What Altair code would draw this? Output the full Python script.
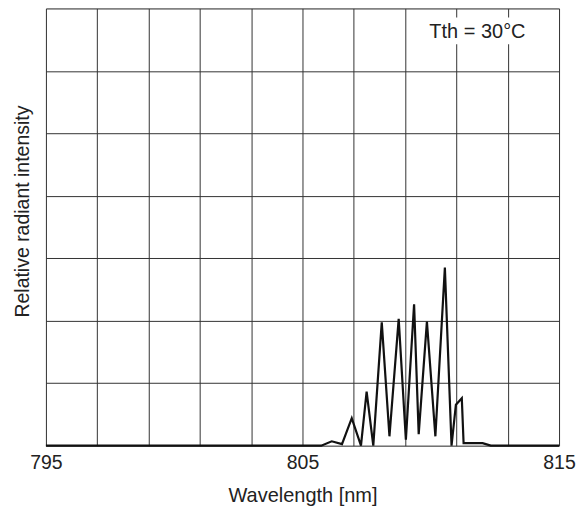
import altair as alt
import pandas as pd

# Spectrum
wavelength = [795.0, 805.73, 806.14, 806.54, 806.92, 807.28, 807.50, 807.76, 808.09,
              808.39, 808.75, 809.03, 809.35, 809.53, 809.85, 810.18, 810.55, 810.81,
              810.98, 811.21, 811.28, 812.02, 812.34, 815.0]
intensity = [0.0, 0.0, 0.014, 0.005, 0.088, 0.0, 0.173, 0.0, 0.395,
             0.030, 0.406, 0.019, 0.453, 0.037, 0.397, 0.030, 0.570, 0.0,
             0.131, 0.152, 0.008, 0.008, 0.0, 0.0]

x_grid = list(range(795, 816, 2))
y_grid = [0.0, 0.2, 0.4, 0.6, 0.8, 1.0, 1.2, 1.4]

note_text = ["Tth = 30°C"]
note_x = [811.82]
note_y = [1.306]
note_box = {"x": [809.82], "x2": [813.83], "y": [1.285], "y2": [1.371]}

FONT = "Liberation Sans"

df = pd.DataFrame({"wl": wavelength, "ri": intensity})
note_df = pd.DataFrame({"t": note_text, "x": note_x, "y": note_y})
box_df = pd.DataFrame(note_box)

xscale = alt.Scale(domain=[795, 815], nice=False, zero=False)
yscale = alt.Scale(domain=[0, 1.4], nice=False, zero=True)

xaxis = alt.Axis(
    values=x_grid,
    labelExpr="(datum.value - 795) % 10 == 0 ? datum.label : ''",
    grid=True, gridColor="#333333", gridWidth=1, gridOpacity=1,
    ticks=False, tickSize=0, domain=False,
    labelFont=FONT, labelFontSize=19.5, labelColor="#222222",
    labelPadding=8, labelFlush=False, labelOverlap=False,
    title="Wavelength [nm]", titleFont=FONT, titleFontSize=20,
    titleFontWeight="normal", titleColor="#222222",
    titleBaseline="alphabetic", titleY=56,
)
yaxis = alt.Axis(
    values=y_grid, labels=False, ticks=False, tickSize=0, domain=False,
    grid=True, gridColor="#333333", gridWidth=1, gridOpacity=1,
    title="Relative radiant intensity", titleFont=FONT, titleFontSize=19.5,
    titleFontWeight="normal", titleColor="#222222",
    titleX=-13, titleY=203, titleBaseline="bottom", titleAngle=-90,
)

line = alt.Chart(df).mark_line(color="#111111", strokeWidth=2.2, strokeJoin="miter").encode(
    x=alt.X("wl:Q", scale=xscale, axis=xaxis),
    y=alt.Y("ri:Q", scale=yscale, axis=yaxis),
)

box = alt.Chart(box_df).mark_rect(color="white", opacity=1).encode(
    x=alt.X("x:Q", scale=xscale), x2="x2:Q",
    y=alt.Y("y:Q", scale=yscale), y2="y2:Q",
)

note = alt.Chart(note_df).mark_text(
    font=FONT, fontSize=20, color="#222222", align="center", baseline="alphabetic"
).encode(
    x=alt.X("x:Q", scale=xscale),
    y=alt.Y("y:Q", scale=yscale),
    text="t:N",
)

chart = alt.layer(line, box, note).properties(
    width=514, height=438,
    autosize=alt.AutoSizeParams(type="none"),
    padding={"left": 38, "top": 0, "right": 20, "bottom": 60},
).configure_view(
    stroke="#111111", strokeWidth=2,
).configure(background="white")

chart.save("out.html", embed_options={"renderer": "svg", "actions": False})
